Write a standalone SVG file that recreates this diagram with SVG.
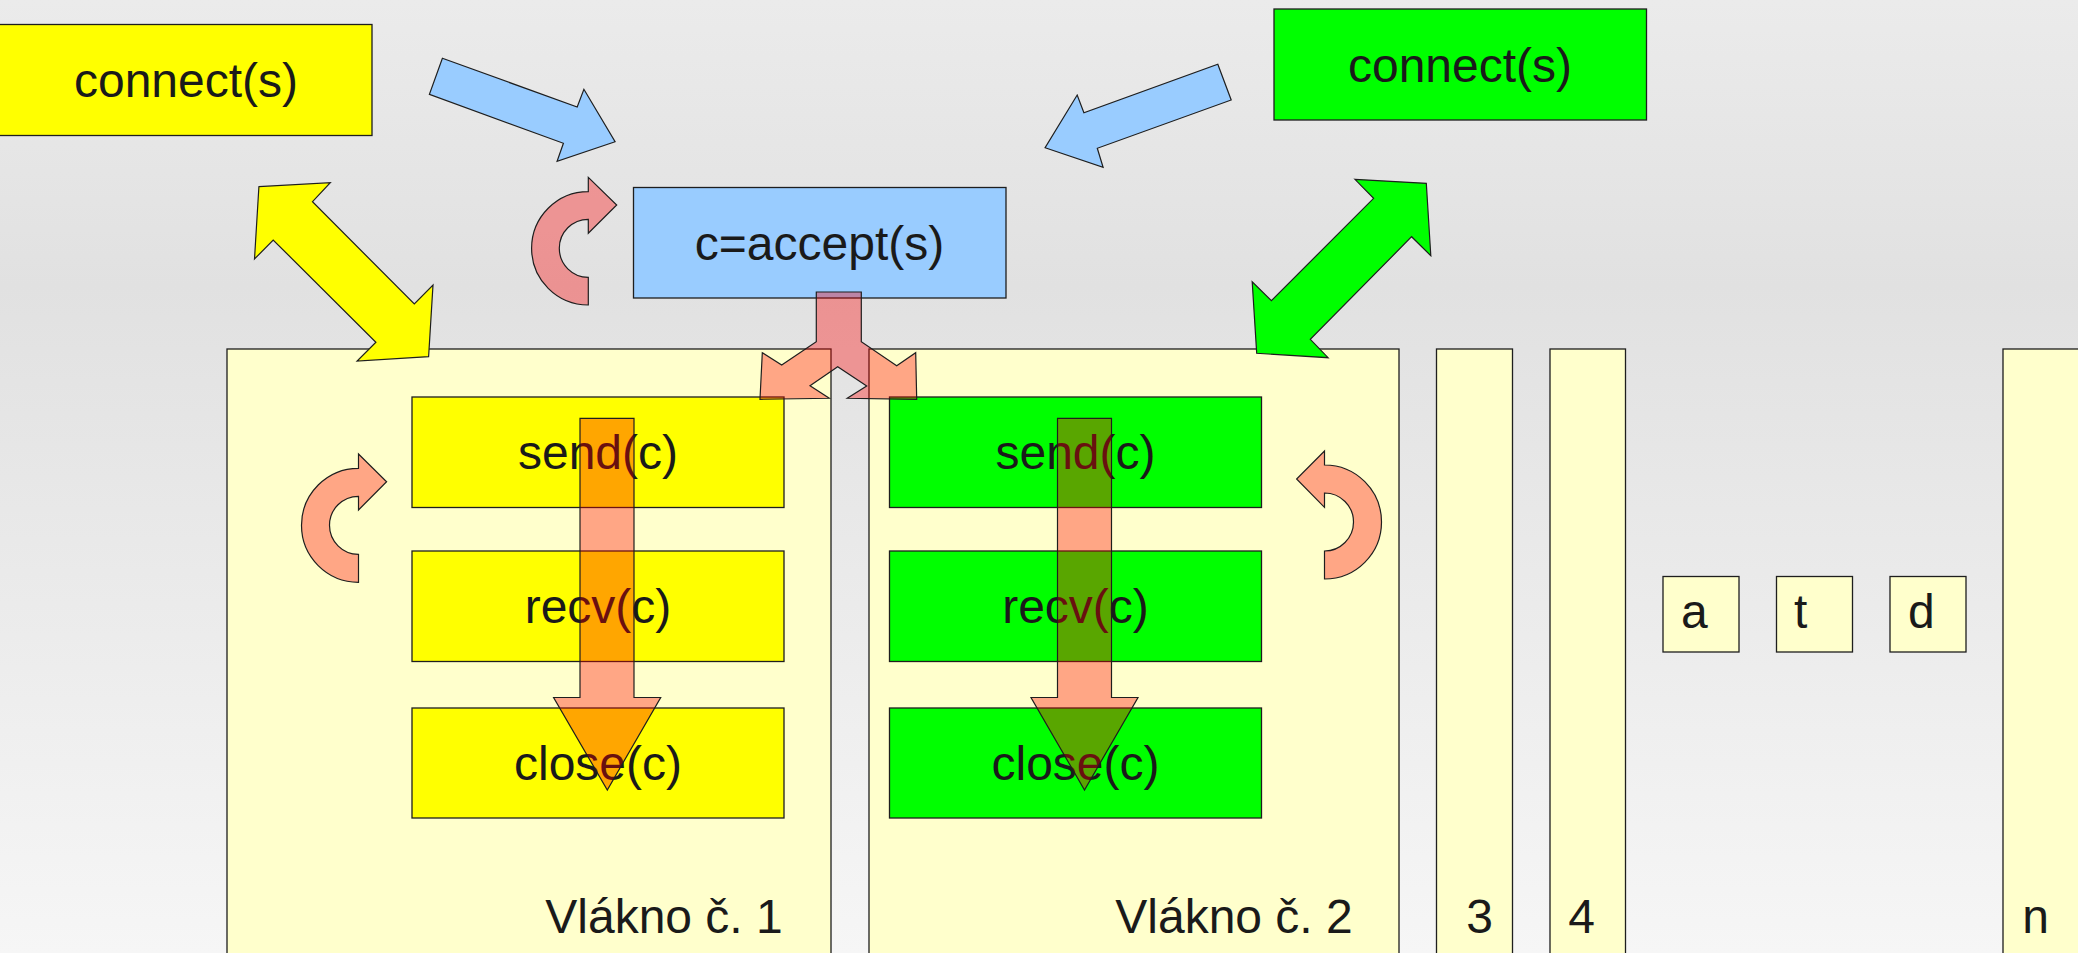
<svg xmlns="http://www.w3.org/2000/svg" width="2078" height="953" viewBox="0 0 2078 953">
  <defs>
    <linearGradient id="bg" x1="0" y1="0" x2="0" y2="1">
      <stop offset="0" stop-color="#ebebeb"/>
      <stop offset="0.3" stop-color="#e1e1e1"/>
      <stop offset="1" stop-color="#f6f6f6"/>
    </linearGradient>
    <style>
      .box { stroke: #1e1e1e; stroke-width: 1.3; }
      .yellow { fill: #ffff00; }
      .green { fill: #00ff00; }
      .blue { fill: #99ccff; }
      .cream { fill: #ffffcc; }
      .lbl { font-family: "Liberation Sans", Arial, sans-serif; font-size: 48px; fill: #1a1a1a; }
      .mid { text-anchor: middle; }
      .arrow { stroke: #1e1e1e; stroke-width: 1.2; stroke-linejoin: miter; }
      .flow { fill: #ff0000; fill-opacity: 0.35; stroke: #1e1e1e; stroke-width: 1.2; }
    </style>
  </defs>

  <!-- backdrop -->
  <rect x="0" y="0" width="2078" height="953" fill="url(#bg)"/>

  <!-- thread columns -->
  <g id="thread-1">
    <rect class="box cream" x="227" y="349" width="604" height="620"/>
    <text class="lbl mid" x="664" y="933">Vlákno č. 1</text>
  </g>
  <g id="thread-2">
    <rect class="box cream" x="869" y="349" width="530" height="620"/>
    <text class="lbl mid" x="1234" y="933">Vlákno č. 2</text>
  </g>
  <g id="thread-3">
    <rect class="box cream" x="1436.5" y="349" width="76" height="620"/>
    <text class="lbl mid" x="1479.5" y="933">3</text>
  </g>
  <g id="thread-4">
    <rect class="box cream" x="1550" y="349" width="75.5" height="620"/>
    <text class="lbl mid" x="1581.5" y="933">4</text>
  </g>
  <g id="thread-n">
    <rect class="box cream" x="2003" y="349" width="100" height="620"/>
    <text class="lbl mid" x="2035.5" y="933">n</text>
  </g>

  <!-- small ellipsis boxes -->
  <g id="dot-a">
    <rect class="box cream" x="1663" y="576.5" width="76" height="75.5"/>
    <text class="lbl" x="1681" y="628">a</text>
  </g>
  <g id="dot-t">
    <rect class="box cream" x="1776.5" y="576.5" width="76" height="75.5"/>
    <text class="lbl" x="1794" y="628">t</text>
  </g>
  <g id="dot-d">
    <rect class="box cream" x="1890" y="576.5" width="76" height="75.5"/>
    <text class="lbl" x="1908" y="628">d</text>
  </g>

  <!-- clients and server -->
  <g id="connect-left">
    <rect class="box yellow" x="-2" y="24.5" width="374" height="111"/>
    <text class="lbl mid" x="186" y="97">connect(s)</text>
  </g>
  <g id="connect-right">
    <rect class="box green" x="1274" y="9" width="372.5" height="111"/>
    <text class="lbl mid" x="1460" y="82">connect(s)</text>
  </g>
  <g id="accept">
    <rect class="box blue" x="633.5" y="187.5" width="372.5" height="110.5"/>
    <text class="lbl mid" x="819.5" y="260">c=accept(s)</text>
  </g>

  <!-- calls inside thread 1 -->
  <g id="t1-send">
    <rect class="box yellow" x="412" y="397" width="372" height="110.5"/>
    <text class="lbl mid" x="598" y="469">send(c)</text>
  </g>
  <g id="t1-recv">
    <rect class="box yellow" x="412" y="551" width="372" height="110.5"/>
    <text class="lbl mid" x="598" y="623">recv(c)</text>
  </g>
  <g id="t1-close">
    <rect class="box yellow" x="412" y="708" width="372" height="110"/>
    <text class="lbl mid" x="598" y="780">close(c)</text>
  </g>

  <!-- calls inside thread 2 -->
  <g id="t2-send">
    <rect class="box green" x="889.5" y="397" width="372" height="110.5"/>
    <text class="lbl mid" x="1075.5" y="469">send(c)</text>
  </g>
  <g id="t2-recv">
    <rect class="box green" x="889.5" y="551" width="372" height="110.5"/>
    <text class="lbl mid" x="1075.5" y="623">recv(c)</text>
  </g>
  <g id="t2-close">
    <rect class="box green" x="889.5" y="708" width="372" height="110"/>
    <text class="lbl mid" x="1075.5" y="780">close(c)</text>
  </g>

  <!-- connectors -->
  <g id="connectors">
    <!-- requests towards accept -->
    <polygon class="arrow blue" points="442.4,58.3 577.2,107 583.9,89.3 615.1,141.7 557.1,161.3 563.4,143.3 429.4,94.3"/>
    <polygon class="arrow blue" points="1217.8,64.3 1231.2,100 1097.3,148.3 1103.1,167.3 1045.1,147.7 1077.2,95 1083.9,112.7"/>

    <!-- client/thread conversation -->
    <polygon class="arrow yellow" points="258.9,186.7 330.3,182.7 312.5,201.7 414.3,304 433,285 428.6,356.7 357.1,361 375.9,342.3 273.2,240 254.5,259"/>
    <polygon class="arrow green" points="1354.9,179.3 1426.3,183.3 1430.8,255.7 1411.6,236.7 1310.3,339.3 1328.1,357.7 1256.7,353.3 1252.2,281.7 1271.4,300.7 1373.6,198.3"/>

    <!-- accept loop -->
    <path class="flow" d="M588.3,305 A56.7,56.7 0 0 1 588.3,191.6 L588.3,177.3 L616.7,205 L588.3,233.3 L588.3,219.3 A29,29 0 0 0 588.3,277.3 Z"/>

    <!-- hand-off to threads -->
    <polygon class="flow" points="816.3,292 861.3,292 861.3,341.7 896.7,365.7 915.7,352.7 916.7,399.3 847.3,398.3 866.7,386 837.7,366.7 810,385.7 829.3,398.3 760,399.3 762.3,352.7 781.7,365 816.3,341.7"/>

    <!-- per-thread loops -->
    <path class="flow" d="M358.5,582.3 A57,57 0 0 1 358.5,468.3 L358.5,454 L386.6,481.7 L358.5,510 L358.5,496.3 A29,29 0 0 0 358.5,554.3 Z"/>
    <path class="flow" d="M1324.5,579 A57,57 0 0 0 1324.5,465 L1324.5,451 L1296.6,479 L1324.5,507.3 L1324.5,493 A29,29 0 0 1 1324.5,551 Z"/>

    <!-- call sequence -->
    <polygon class="flow" points="580,418.3 634,418.3 634,697.5 660.7,697.5 607.3,790 553.6,697.5 580,697.5"/>
    <polygon class="flow" points="1057.5,418.3 1111.5,418.3 1111.5,697.5 1138,697.5 1084.5,790 1031,697.5 1057.5,697.5"/>
  </g>
</svg>
